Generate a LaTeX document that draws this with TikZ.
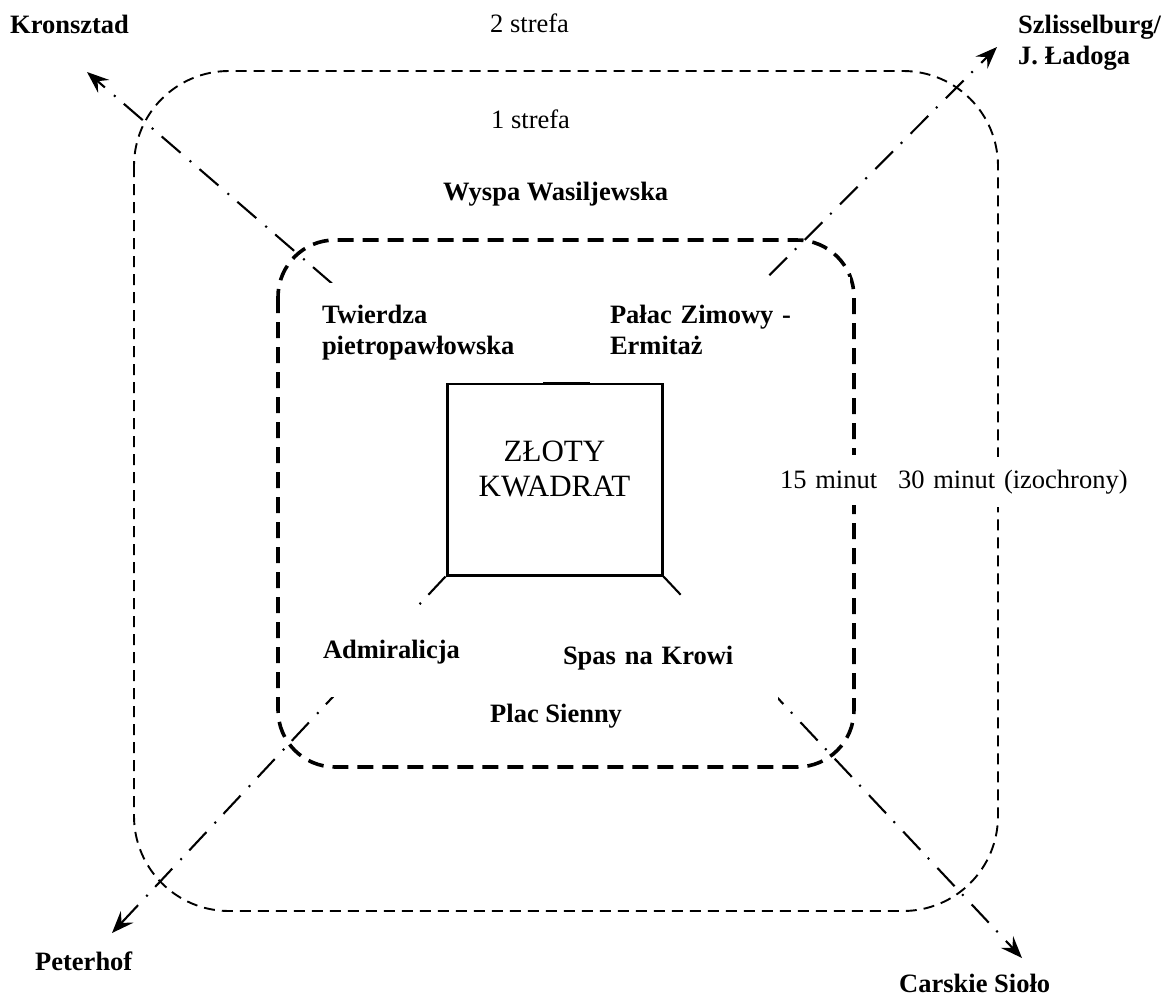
\documentclass[tikz,border=0pt]{standalone}
\usepackage{fontspec}
\setmainfont{Liberation Serif}
\usetikzlibrary{positioning,arrows.meta}

\begin{document}
\begin{tikzpicture}[
  x=1pt, y=-1pt,
  place/.style={font=\fontsize{26.5}{31}\selectfont\bfseries, inner sep=0pt, fill=white, align=left},
  zone/.style={font=\fontsize{26.5}{31}\selectfont, inner sep=0pt, fill=white, align=left},
  ring/.style={dash pattern=on 11pt off 7pt, line width=1.9pt, rounded corners=95pt},
  city/.style={dash pattern=on 16pt off 9pt, line width=3.6pt, rounded corners=57pt},
  route/.style={-{Stealth[length=22pt,width=17pt,inset=8pt]}, dash pattern=on 25pt off 11pt on 2pt off 12pt, line width=2.1pt}
]
\useasboundingbox (0,0) rectangle (1171,996);

% Zones (izochrony)
\draw[ring] (134,71) rectangle (998,911);
\draw[city] (278,240) rectangle (854,767);

% Centre
\node[draw, line width=3pt, inner sep=0pt, minimum width=215pt, minimum height=192pt] (kwadrat) at (554.5,479) {};
\node[font=\fontsize{31}{35}\selectfont, align=center] (nazwa) at ([yshift=10pt]kwadrat.center) {ZŁOTY\\KWADRAT};

% Routes out of the city
\coordinate (kron) at (87,72);
\coordinate (szlis) at (997,47);
\coordinate (peter) at (112,933);
\coordinate (carsk) at (1022,958);
\draw[route] (kwadrat.north west) -- (kron);
\draw[route] (kwadrat.north east) -- (szlis);
\draw[route] (kwadrat.south west) -- (peter);
\draw[route] (kwadrat.south east) -- (carsk);

% Places inside
\node[place, text width=195pt, minimum width=247pt, minimum height=100pt] (twierdza) at (419.5,333) {Twierdza\\pietropawłowska};
\node[place, text width=220pt, minimum width=260pt, minimum height=106pt] (palac) at (720,330) {Pałac Zimowy -\\Ermitaż};
\node[place, text width=140pt, minimum width=186pt, minimum height=90pt] (admiralicja) at (393,652) {Admiralicja};
\node[place, text width=200pt, minimum width=230pt, minimum height=118pt] (spas) at (663,658) {Spas na Krowi};
\node[place, anchor=base west] (plac) at (490,722) {Plac Sienny};
\node[place, anchor=base west] (wyspa) at (443,200) {Wyspa Wasiljewska};

% Zone names
\node[zone, anchor=base west] (strefa2) at (490,32) {2 strefa};
\node[zone, anchor=base west] (strefa1) at (491,128) {1 strefa};
\node[zone, text width=110pt, minimum width=110pt, minimum height=50pt] (min15) at (835,480) {15 minut};
\node[zone, text width=232pt, minimum width=240pt, minimum height=50pt] (min30) at (1014,482) {30 minut (izochrony)};

% Destinations
\node[place, anchor=base west] (kronsztad) at (10,33) {Kronsztad};
\node[place, anchor=north west] (szlisselburg) at (1018,15) {Szlisselburg/\\J. Ładoga};
\node[place, anchor=base west] (peterhof) at (35,970) {Peterhof};
\node[place, anchor=base west] (carskie) at (899,992) {Carskie Sioło};

\end{tikzpicture}
\end{document}
